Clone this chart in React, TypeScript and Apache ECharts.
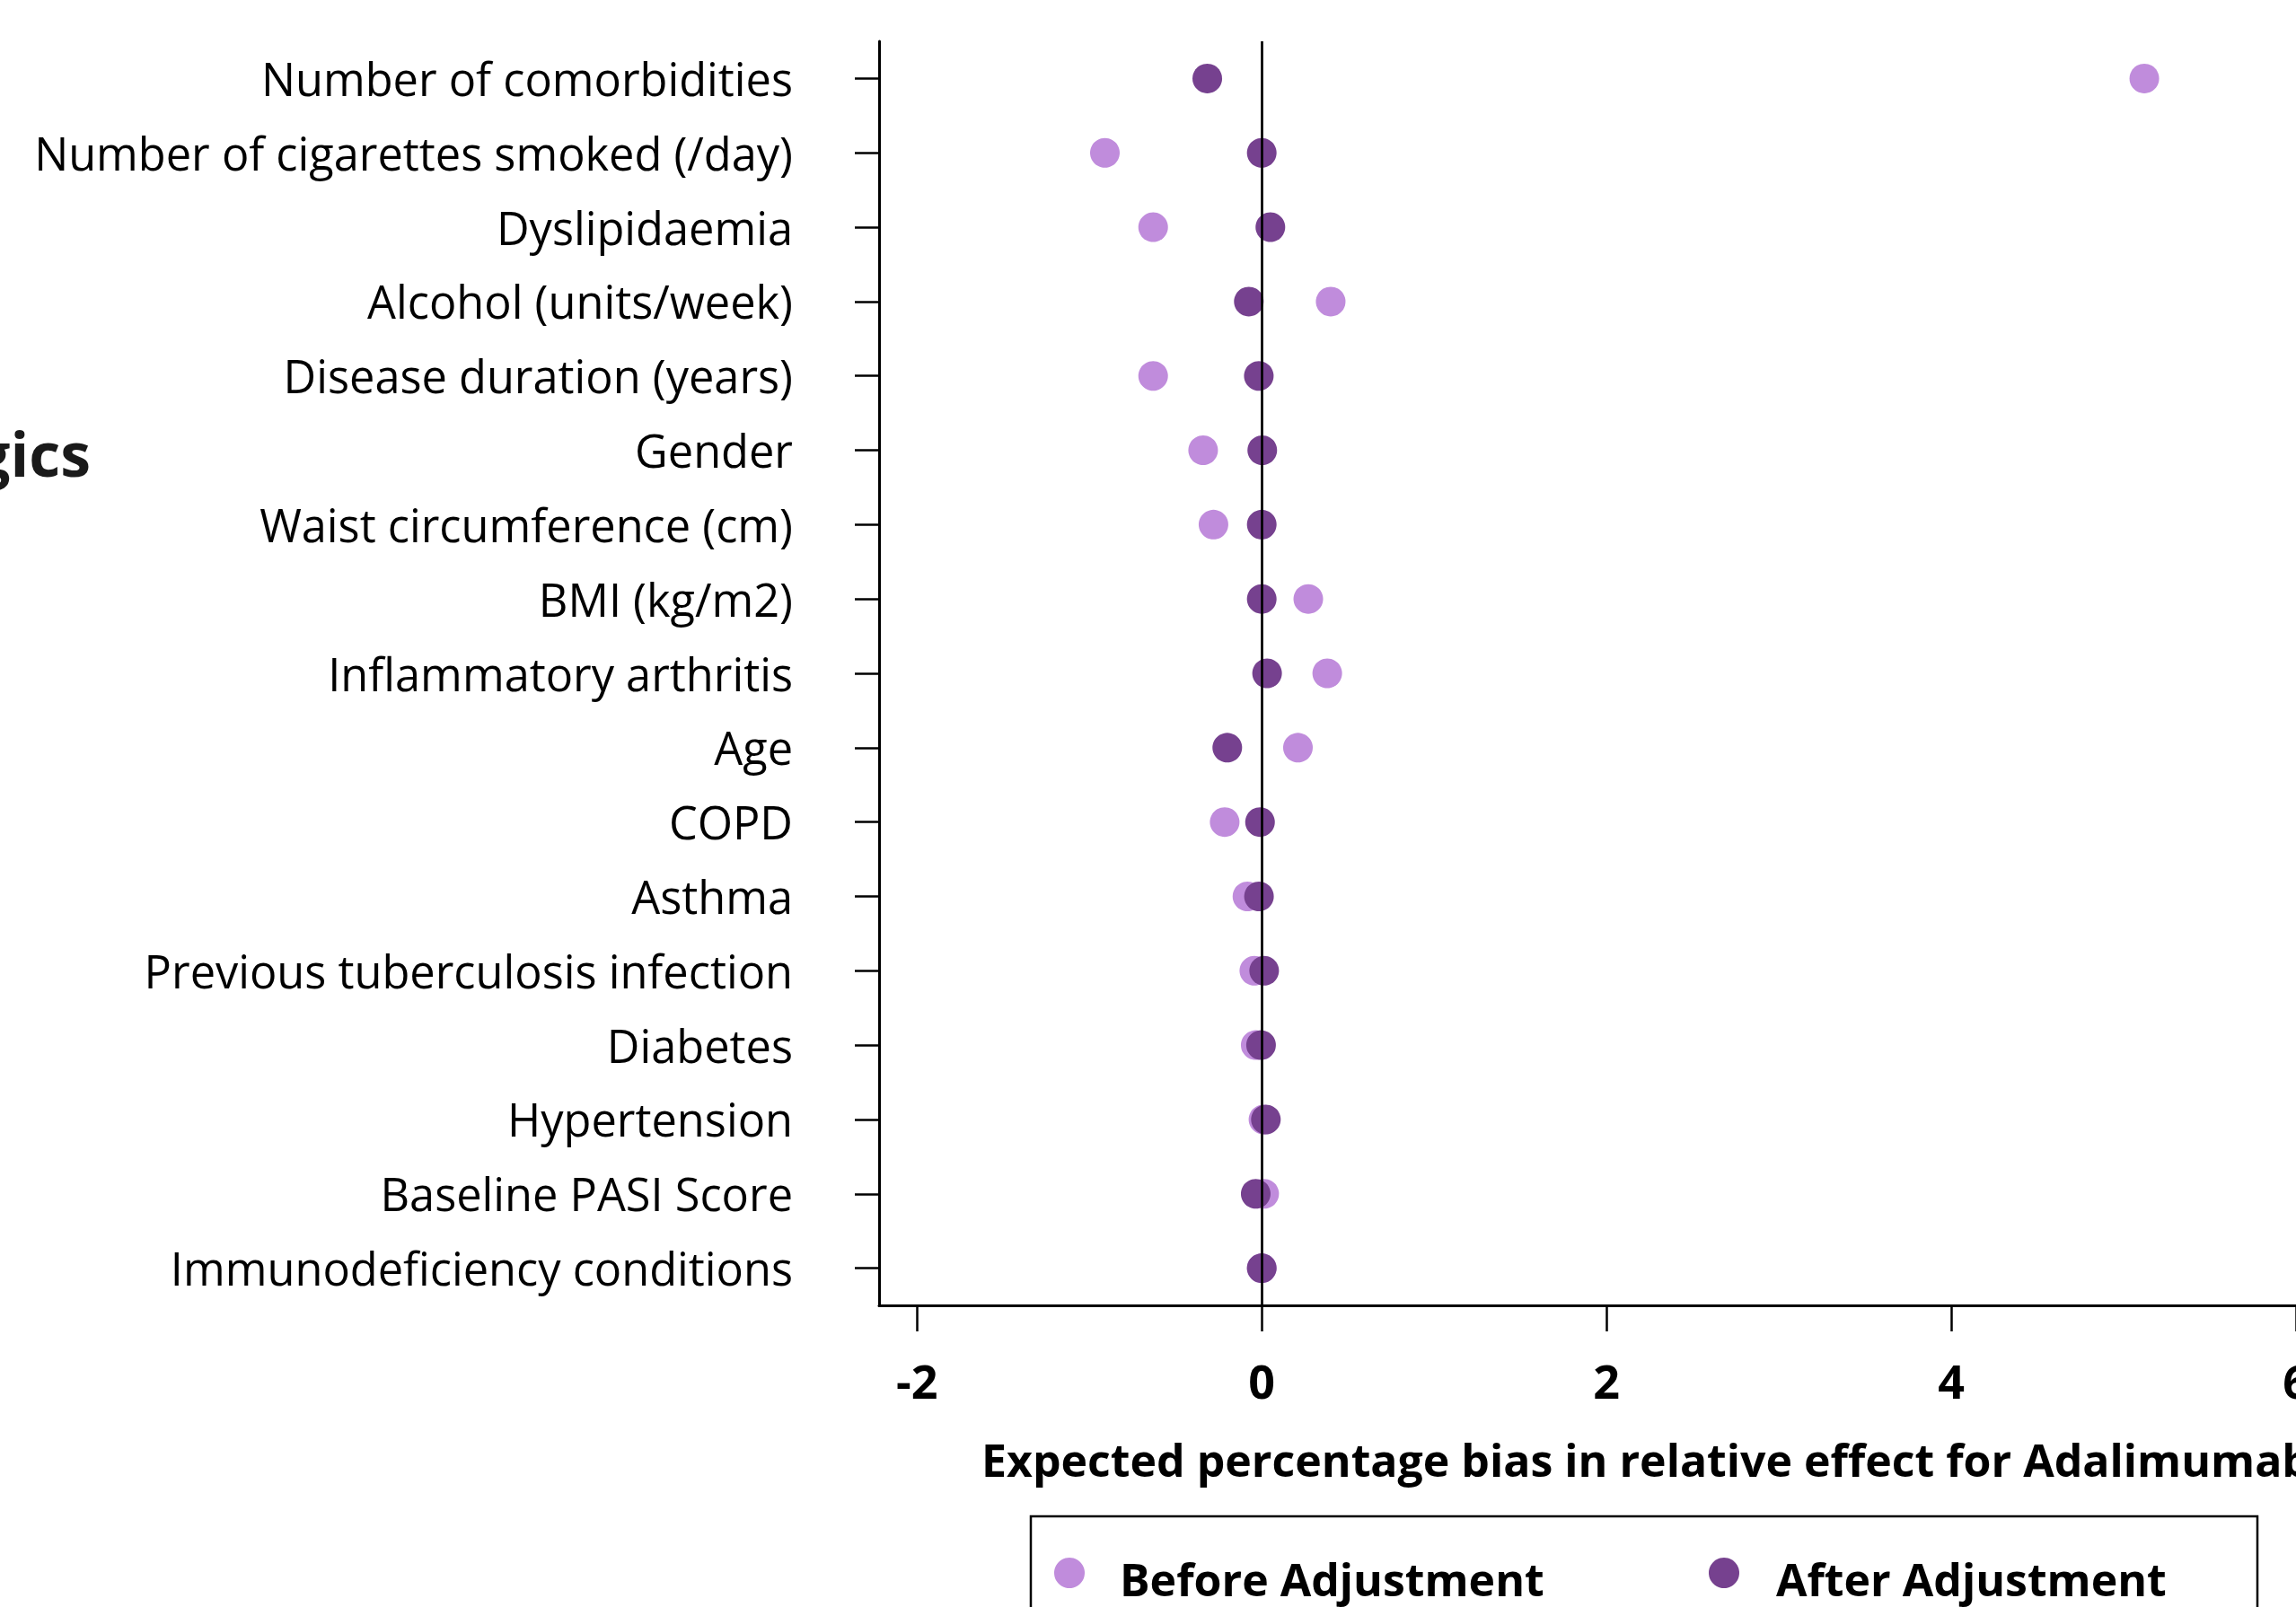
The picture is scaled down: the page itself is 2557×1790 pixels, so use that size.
import React, { useEffect, useRef } from "react";
import * as echarts from "echarts";

const categories = [
  "Number of comorbidities",
  "Number of cigarettes smoked (/day)",
  "Dyslipidaemia",
  "Alcohol (units/week)",
  "Disease duration (years)",
  "Gender",
  "Waist circumference (cm)",
  "BMI (kg/m2)",
  "Inflammatory arthritis",
  "Age",
  "COPD",
  "Asthma",
  "Previous tuberculosis infection",
  "Diabetes",
  "Hypertension",
  "Baseline PASI Score",
  "Immunodeficiency conditions",
];

const beforeAdjustment = [
  5.12, -0.91, -0.63, 0.4, -0.63, -0.34, -0.28, 0.27, 0.38, 0.21, -0.215,
  -0.083, -0.043, -0.035, 0.01, 0.014, 0.0,
];

const afterAdjustment = [
  -0.316, 0.0, 0.05, -0.075, -0.017, 0.003, 0.0, 0.0, 0.031, -0.2, -0.01,
  -0.016, 0.014, -0.004, 0.024, -0.035, 0.0,
];

const xTickValues = [-2, 0, 2, 4, 6];

const seriesNames = ["Before Adjustment", "After Adjustment"];
const xAxisTitle = "Expected percentage bias in relative effect for Adalimumab";
const groupLabel = "Biologics";

const LIGHT = "#C08CDC";
const DARK = "#76418F";
const FONT = "'Open Sans', 'Noto Sans', sans-serif";

export default function App() {
  const ref = useRef<HTMLDivElement>(null);

  useEffect(() => {
    if (!ref.current) return;
    const chart = echarts.init(ref.current, null, { renderer: "svg" });
    const option = {
      animation: false,
      backgroundColor: "#ffffff",
      grid: {
        left: 979,
        top: 46,
        right: 0,
        bottom: 336,
        containLabel: false,
        outerBoundsMode: "none",
      },
      xAxis: {
        type: "value",
        min: -2.22,
        max: 6.0,
        splitLine: { show: false },
        axisLine: { show: true, onZero: false, lineStyle: { color: "#000", width: 3 } },
        axisTick: {
          show: true,
          inside: false,
          length: 29,
          customValues: xTickValues,
          lineStyle: { color: "#000", width: 2.5 },
        },
        axisLabel: {
          show: true,
          customValues: xTickValues,
          margin: 57,
          color: "#000",
          fontFamily: FONT,
          fontWeight: "bold",
          fontSize: 52,
          showMinLabel: true,
          showMaxLabel: true,
        },
      },
      yAxis: {
        type: "category",
        data: categories,
        inverse: true,
        boundaryGap: true,
        axisLine: { show: true, onZero: false, lineStyle: { color: "#000", width: 3 } },
        axisTick: {
          show: true,
          alignWithLabel: true,
          inside: false,
          length: 27,
          lineStyle: { color: "#000", width: 2.5 },
        },
        axisLabel: {
          show: true,
          interval: 0,
          margin: 96,
          color: "#000",
          fontFamily: FONT,
          fontSize: 50.5,
          align: "right",
        },
        splitLine: { show: false },
      },
      series: [
        {
          name: seriesNames[0],
          type: "scatter",
          symbol: "circle",
          symbolSize: 33,
          itemStyle: { color: LIGHT, opacity: 1 },
          data: beforeAdjustment.map((v, i) => [v, categories[i]]),
          z: 2,
        },
        {
          name: seriesNames[1],
          type: "scatter",
          symbol: "circle",
          symbolSize: 33,
          itemStyle: { color: DARK, opacity: 1 },
          data: afterAdjustment.map((v, i) => [v, categories[i]]),
          z: 3,
          markLine: {
            silent: true,
            symbol: "none",
            label: { show: false },
            lineStyle: { color: "#000", width: 2.7, type: "solid" },
            data: [{ xAxis: 0 }],
            z: 5,
          },
        },
      ],
      graphic: [
        {
          type: "text",
          x: 101,
          y: 504,
          style: {
            text: groupLabel,
            fill: "#1a1a1a",
            font: `bold 68px ${FONT}`,
            textAlign: "right",
            textVerticalAlign: "middle",
          },
        },
        {
          type: "text",
          x: 1093,
          y: 1626,
          style: {
            text: xAxisTitle,
            fill: "#000",
            font: `bold 50px ${FONT}`,
            textAlign: "left",
            textVerticalAlign: "middle",
          },
        },
        {
          type: "rect",
          shape: { x: 1148, y: 1689, width: 1366, height: 200 },
          style: { fill: "none", stroke: "#000", lineWidth: 2.5 },
        },
        {
          type: "circle",
          shape: { cx: 1191, cy: 1752, r: 17 },
          style: { fill: LIGHT },
        },
        {
          type: "text",
          x: 1247,
          y: 1759,
          style: {
            text: seriesNames[0],
            fill: "#000",
            font: `bold 50px ${FONT}`,
            textAlign: "left",
            textVerticalAlign: "middle",
          },
        },
        {
          type: "circle",
          shape: { cx: 1920, cy: 1752, r: 17 },
          style: { fill: DARK },
        },
        {
          type: "text",
          x: 1978,
          y: 1759,
          style: {
            text: seriesNames[1],
            fill: "#000",
            font: `bold 50px ${FONT}`,
            textAlign: "left",
            textVerticalAlign: "middle",
          },
        },
      ],
    };
    chart.setOption(option as any);
    return () => chart.dispose();
  }, []);

  return (
    <div
      ref={ref}
      style={{ position: "absolute", left: 0, top: 0, width: 2557, height: 1790 }}
    />
  );
}
